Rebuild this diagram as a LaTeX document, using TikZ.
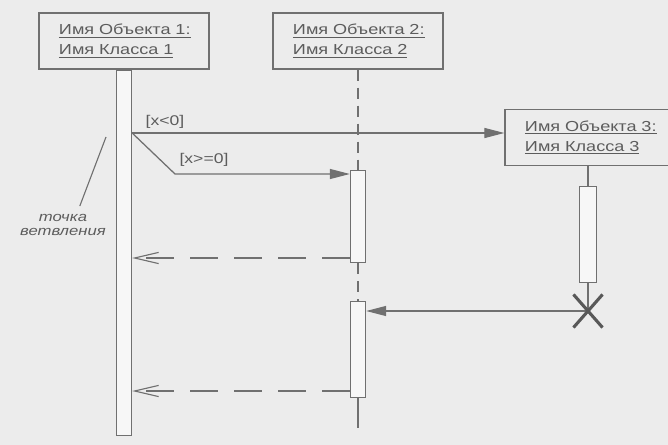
\documentclass[tikz,border=0pt]{standalone}
\usepackage{fontspec}
\setmainfont{Liberation Sans}[FakeStretch=1.25]
\usetikzlibrary{arrows.meta,shapes.misc}
\definecolor{scanBg}{RGB}{236,236,236}
\definecolor{scanBar}{RGB}{247,247,247}
\definecolor{scanInk}{RGB}{112,112,112}
\definecolor{scanText}{RGB}{92,92,92}
\definecolor{scanDark}{RGB}{88,88,88}

\begin{document}
\begin{tikzpicture}[x=0.025cm,y=-0.025cm,
  objBox/.style={draw=scanInk,line width=0.9pt,fill=scanBg,text=scanText,
    minimum width=4.25cm,minimum height=1.4cm,text width=3.25cm,
    inner xsep=0.5cm,inner ysep=2pt,align=left,font=\fontsize{10.3}{14}\selectfont},
  actBar/.style={draw=scanInk,line width=0.8pt,fill=scanBar,minimum width=0.38cm,
    inner sep=0pt,anchor=north},
  life/.style={draw=scanInk,line width=0.8pt},
  lifeDash/.style={life,dash pattern=on 0.28cm off 0.17cm},
  msg/.style={draw=scanInk,line width=0.9pt,-{Triangle[length=0.5cm,width=0.25cm]}},
  ret/.style={draw=scanInk,line width=0.8pt,dash pattern=on 0.7cm off 0.4cm,
    -{Straight Barb[length=0.6cm,width=0.28cm]}},
  guard/.style={text=scanText,inner sep=0pt,font=\fontsize{10}{12}\selectfont}]
\clip (0,0) rectangle (668,445);
\fill[scanBg] (0,0) rectangle (668,445);

% objects
\node[objBox] (obj1) at (124,41) {\underline{Имя Объекта 1:}\\\underline{Имя Класса 1}};
\node[objBox] (obj2) at (358,41) {\underline{Имя Объекта 2:}\\\underline{Имя Класса 2}};
\node[objBox] (obj3) at (590,137.5) {\underline{Имя Объекта 3:}\\\underline{Имя Класса 3}};

% activations
\node[actBar,minimum height=9.125cm] (bar1) at (obj1.south) {};
\node[actBar,minimum height=2.3cm] (bar2a) at (358,170) {};
\node[actBar,minimum height=2.4cm] (bar2b) at (358,301) {};
\node[actBar,minimum height=2.4cm,minimum width=0.42cm] (bar3) at (588,186) {};
\coordinate (destroy) at (588,311);

% lifelines
\coordinate (end2) at (358,428);
\draw[lifeDash] (obj2.south) -- (bar2a.north);
\draw[lifeDash] (bar2a.south) -- (bar2b.north);
\draw[life] (bar2b.south) -- (end2);
\draw[life] (bar3.north |- obj3.south) -- (bar3.north);
\draw[life] (bar3.south) -- (destroy);

% messages
\coordinate (fork) at (bar1.east |- 0,133);
\coordinate (bend) at (175,174);
\draw[msg] (fork) -- (fork -| obj3.west);
\draw[msg] (fork) -- (bend) -- (bend -| bar2a.west);
\draw[ret] (bar2a.west |- 0,258) -- (bar1.east |- 0,258);
\draw[msg] (destroy) -- (bar2b.east |- destroy);
\draw[ret] (bar2b.west |- 0,391) -- (bar1.east |- 0,391);
\node[draw=scanDark,cross out,line width=2.2pt,minimum width=0.65cm,
  minimum height=0.75cm,inner sep=0pt] (cross) at (destroy) {};

\node[guard] (g1) at (165,122) {[x<0]};
\node[guard] (g2) at (204,160) {[x>=0]};

% branch note
\coordinate (ptr) at (106,137);
\node[guard,align=center,font=\itshape\fontsize{9.5}{10}\selectfont] (note) at (63,225) {точка\\ветвления};
\draw[life] ([xshift=0.42cm,yshift=0.2cm]note.north) -- (ptr);
\end{tikzpicture}
\end{document}
